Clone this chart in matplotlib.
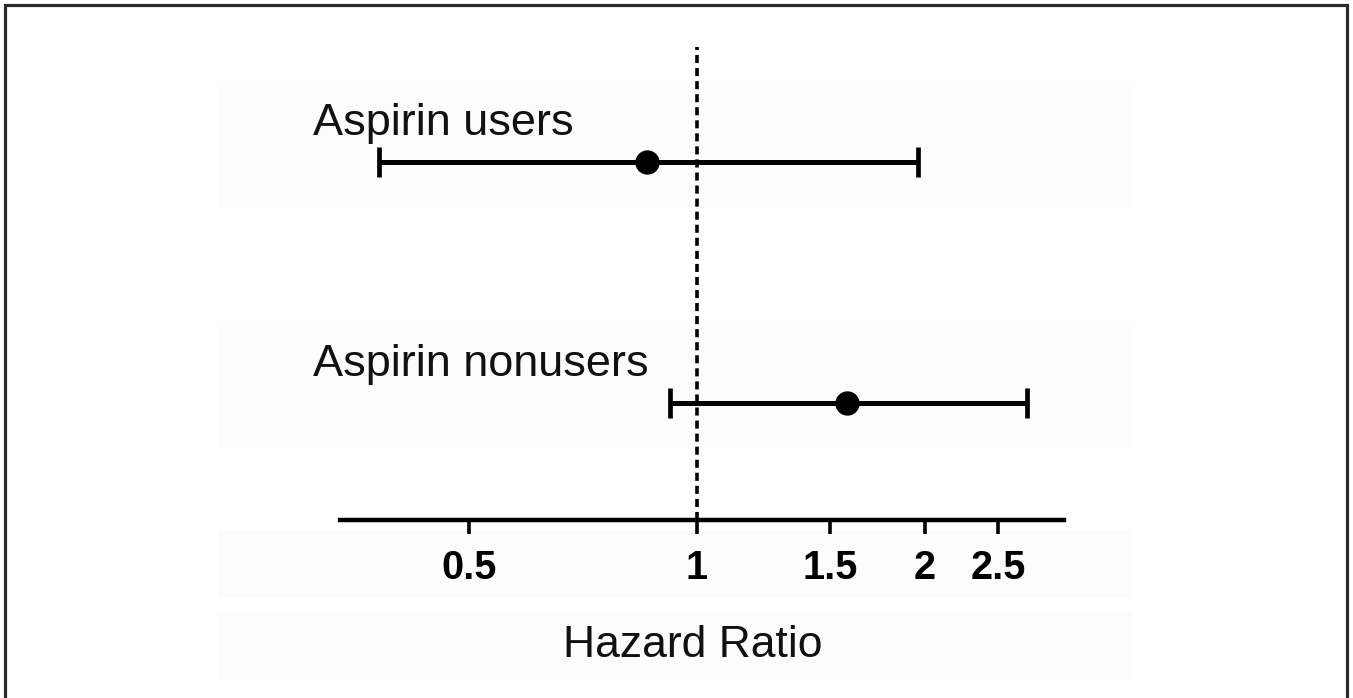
"""Forest plot: hazard ratio by aspirin use"""

import matplotlib
matplotlib.use("Agg")
import matplotlib.pyplot as plt
import matplotlib.patches as mpatches
from matplotlib.ticker import FixedLocator, NullLocator, FixedFormatter

plt.rcParams["font.family"] = ["Liberation Sans", "DejaVu Sans"]
plt.rcParams["lines.scale_dashes"] = False

# data
groups = ["Aspirin users", "Aspirin nonusers"]
hazard_ratio = [0.86, 1.58]
ci_low = [0.38, 0.92]
ci_high = [1.96, 2.73]
rows = [1, 0]
tick_values = [0.5, 1, 1.5, 2, 2.5]
tick_labels = ["0.5", "1", "1.5", "2", "2.5"]

W, H = 1353, 698
fig = plt.figure(figsize=(W / 100, H / 100), dpi=100)
fig.patch.set_facecolor("white")

# faint grey bands from the scanned original
for top, bottom in [(87, 207), (327, 447), (530, 598), (612, 680)]:
    fig.patches.append(mpatches.Rectangle(
        (218 / W, 1 - bottom / H), (1132 - 218) / W, (bottom - top) / H,
        transform=fig.transFigure, facecolor="#fcfcfc", edgecolor="none", zorder=-5))

# frame round the whole figure
fig.patches.append(mpatches.Rectangle(
    (5 / W, -0.1), (1347 - 5) / W, 1.1 - 5 / H,
    transform=fig.transFigure, fill=False, edgecolor="#2a2a2a", linewidth=2.3, zorder=5))

ax = fig.add_axes([340 / W, 1 - 520 / H, 724 / W, 473 / H])
ax.set_zorder(2)
ax.patch.set_alpha(0)
ax.set_xscale("log")
ax.set_xlim(0.3378, 3.052)
ax.set_ylim(-0.484, 1.476)

for side in ["top", "right", "left"]:
    ax.spines[side].set_visible(False)
ax.spines["bottom"].set_linewidth(3.2)
ax.spines["bottom"].set_color("black")

ax.xaxis.set_major_locator(FixedLocator(tick_values))
ax.xaxis.set_major_formatter(FixedFormatter(tick_labels))
ax.xaxis.set_minor_locator(NullLocator())
ax.tick_params(axis="x", which="major", length=10, width=2.6, pad=11,
               labelsize=28.5, color="black")
for lab in ax.get_xticklabels():
    lab.set_fontweight("bold")
ax.set_yticks([])

# reference line at HR = 1
ax.axvline(1, ymin=0, ymax=1, color="black", linewidth=2.6,
           dashes=(5.8, 3.6), zorder=1)

for i in range(len(groups)):
    hr = hazard_ratio[i]
    ax.errorbar(hr, rows[i], xerr=[[hr - ci_low[i]], [ci_high[i] - hr]],
                fmt="o", color="black", markersize=16.5, elinewidth=3.6,
                capsize=11, capthick=3.4, zorder=3)
    ax.annotate(groups[i], xy=(0, rows[i]), xycoords=("axes fraction", "data"),
                xytext=(-19.4, 19.4), textcoords="offset points",
                fontsize=32.5, ha="left", va="baseline", color="#111111")

fig.text(693 / W, 1 - 657 / H, "Hazard Ratio", fontsize=32, ha="center",
         va="baseline", color="#111111", zorder=3)

fig.savefig("out.png", dpi=100)
